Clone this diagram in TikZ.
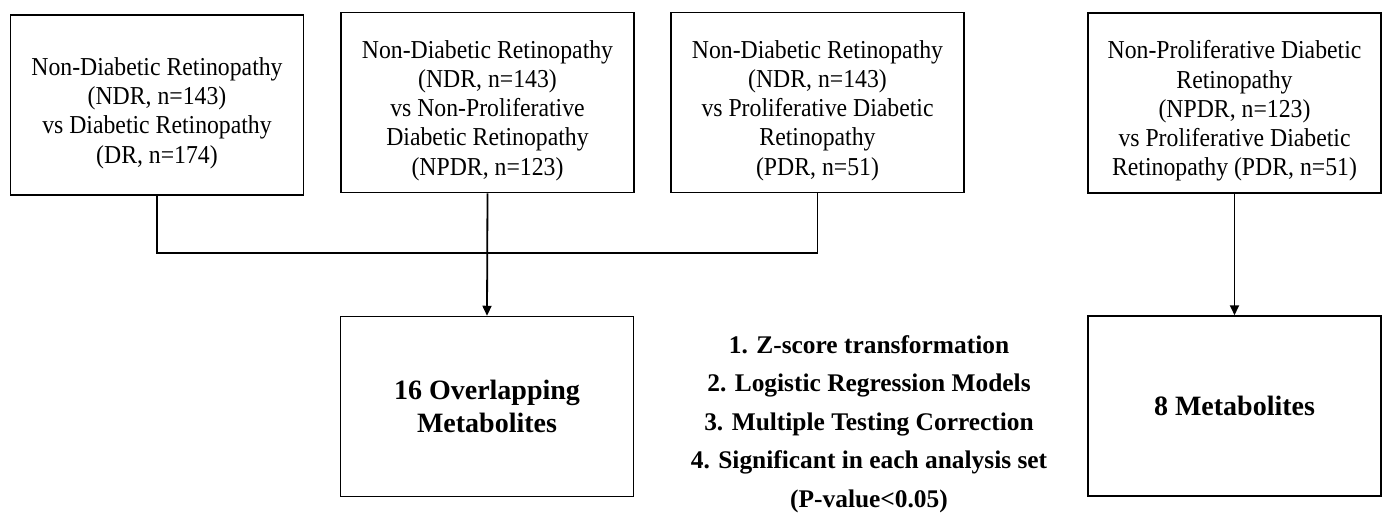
\documentclass[tikz,border=0pt]{standalone}
\usepackage{fontspec}
\setmainfont{Liberation Serif}
\newfontfamily\grpfont[FakeStretch=0.92]{Liberation Serif}
\usetikzlibrary{arrows.meta}
\newcommand{\topgap}{\rule{0pt}{17pt}}

\begin{document}
\begin{tikzpicture}[x=0.5pt,y=-0.5pt,
  grpbox/.style={draw=black, line width=0.75pt, minimum width=146.5pt, minimum height=90pt,
    align=center, inner sep=0pt, font=\grpfont\fontsize{12.9}{14.6}\selectfont},
  resbox/.style={draw=black, line width=0.75pt, minimum width=146.5pt, minimum height=90pt,
    align=center, inner sep=0pt, font=\fontsize{14}{16.5}\selectfont\bfseries},
  link/.style={line width=0.9pt},
  flow/.style={link, -{Triangle[length=5pt,width=4.5pt]}}]
\useasboundingbox (0,0) rectangle (1383,515);
% comparison groups
\node[grpbox] (ndrdr) at (157,105) {\topgap Non-Diabetic Retinopathy\\(NDR, n=143)\\vs Diabetic Retinopathy\\(DR, n=174)};
\node[grpbox] (ndrnpdr) at (487.5,102.5) {\topgap Non-Diabetic Retinopathy\\(NDR, n=143)\\vs Non-Proliferative\\Diabetic Retinopathy\\(NPDR, n=123)};
\node[grpbox] (ndrpdr) at (817.5,102.5) {\topgap Non-Diabetic Retinopathy\\(NDR, n=143)\\vs Proliferative Diabetic\\Retinopathy\\(PDR, n=51)};
\node[grpbox] (npdrpdr) at (1234.5,103) {\topgap Non-Proliferative Diabetic\\Retinopathy\\(NPDR, n=123)\\vs Proliferative Diabetic\\Retinopathy (PDR, n=51)};
% results
\node[resbox] (overlap) at (487,406.5) {16 Overlapping\\Metabolites};
\node[resbox] (eight) at (1234.5,406) {8 Metabolites};
% analysis steps
\node[align=center, inner sep=0pt, font=\fontsize{12.7}{19.2}\selectfont\bfseries] (steps) at (869,424)
  {1. Z-score transformation\\2. Logistic Regression Models\\3. Multiple Testing Correction\\4. Significant in each analysis set\\(P-value<0.05)};
% connectors
\coordinate (join) at (487.5,253);
\draw[link] (ndrdr.south) |- (join) -| (ndrpdr.south);
\draw[flow] (ndrnpdr.south) -- (overlap.north);
\draw[flow] (npdrpdr.south) -- (eight.north);
\end{tikzpicture}
\end{document}
